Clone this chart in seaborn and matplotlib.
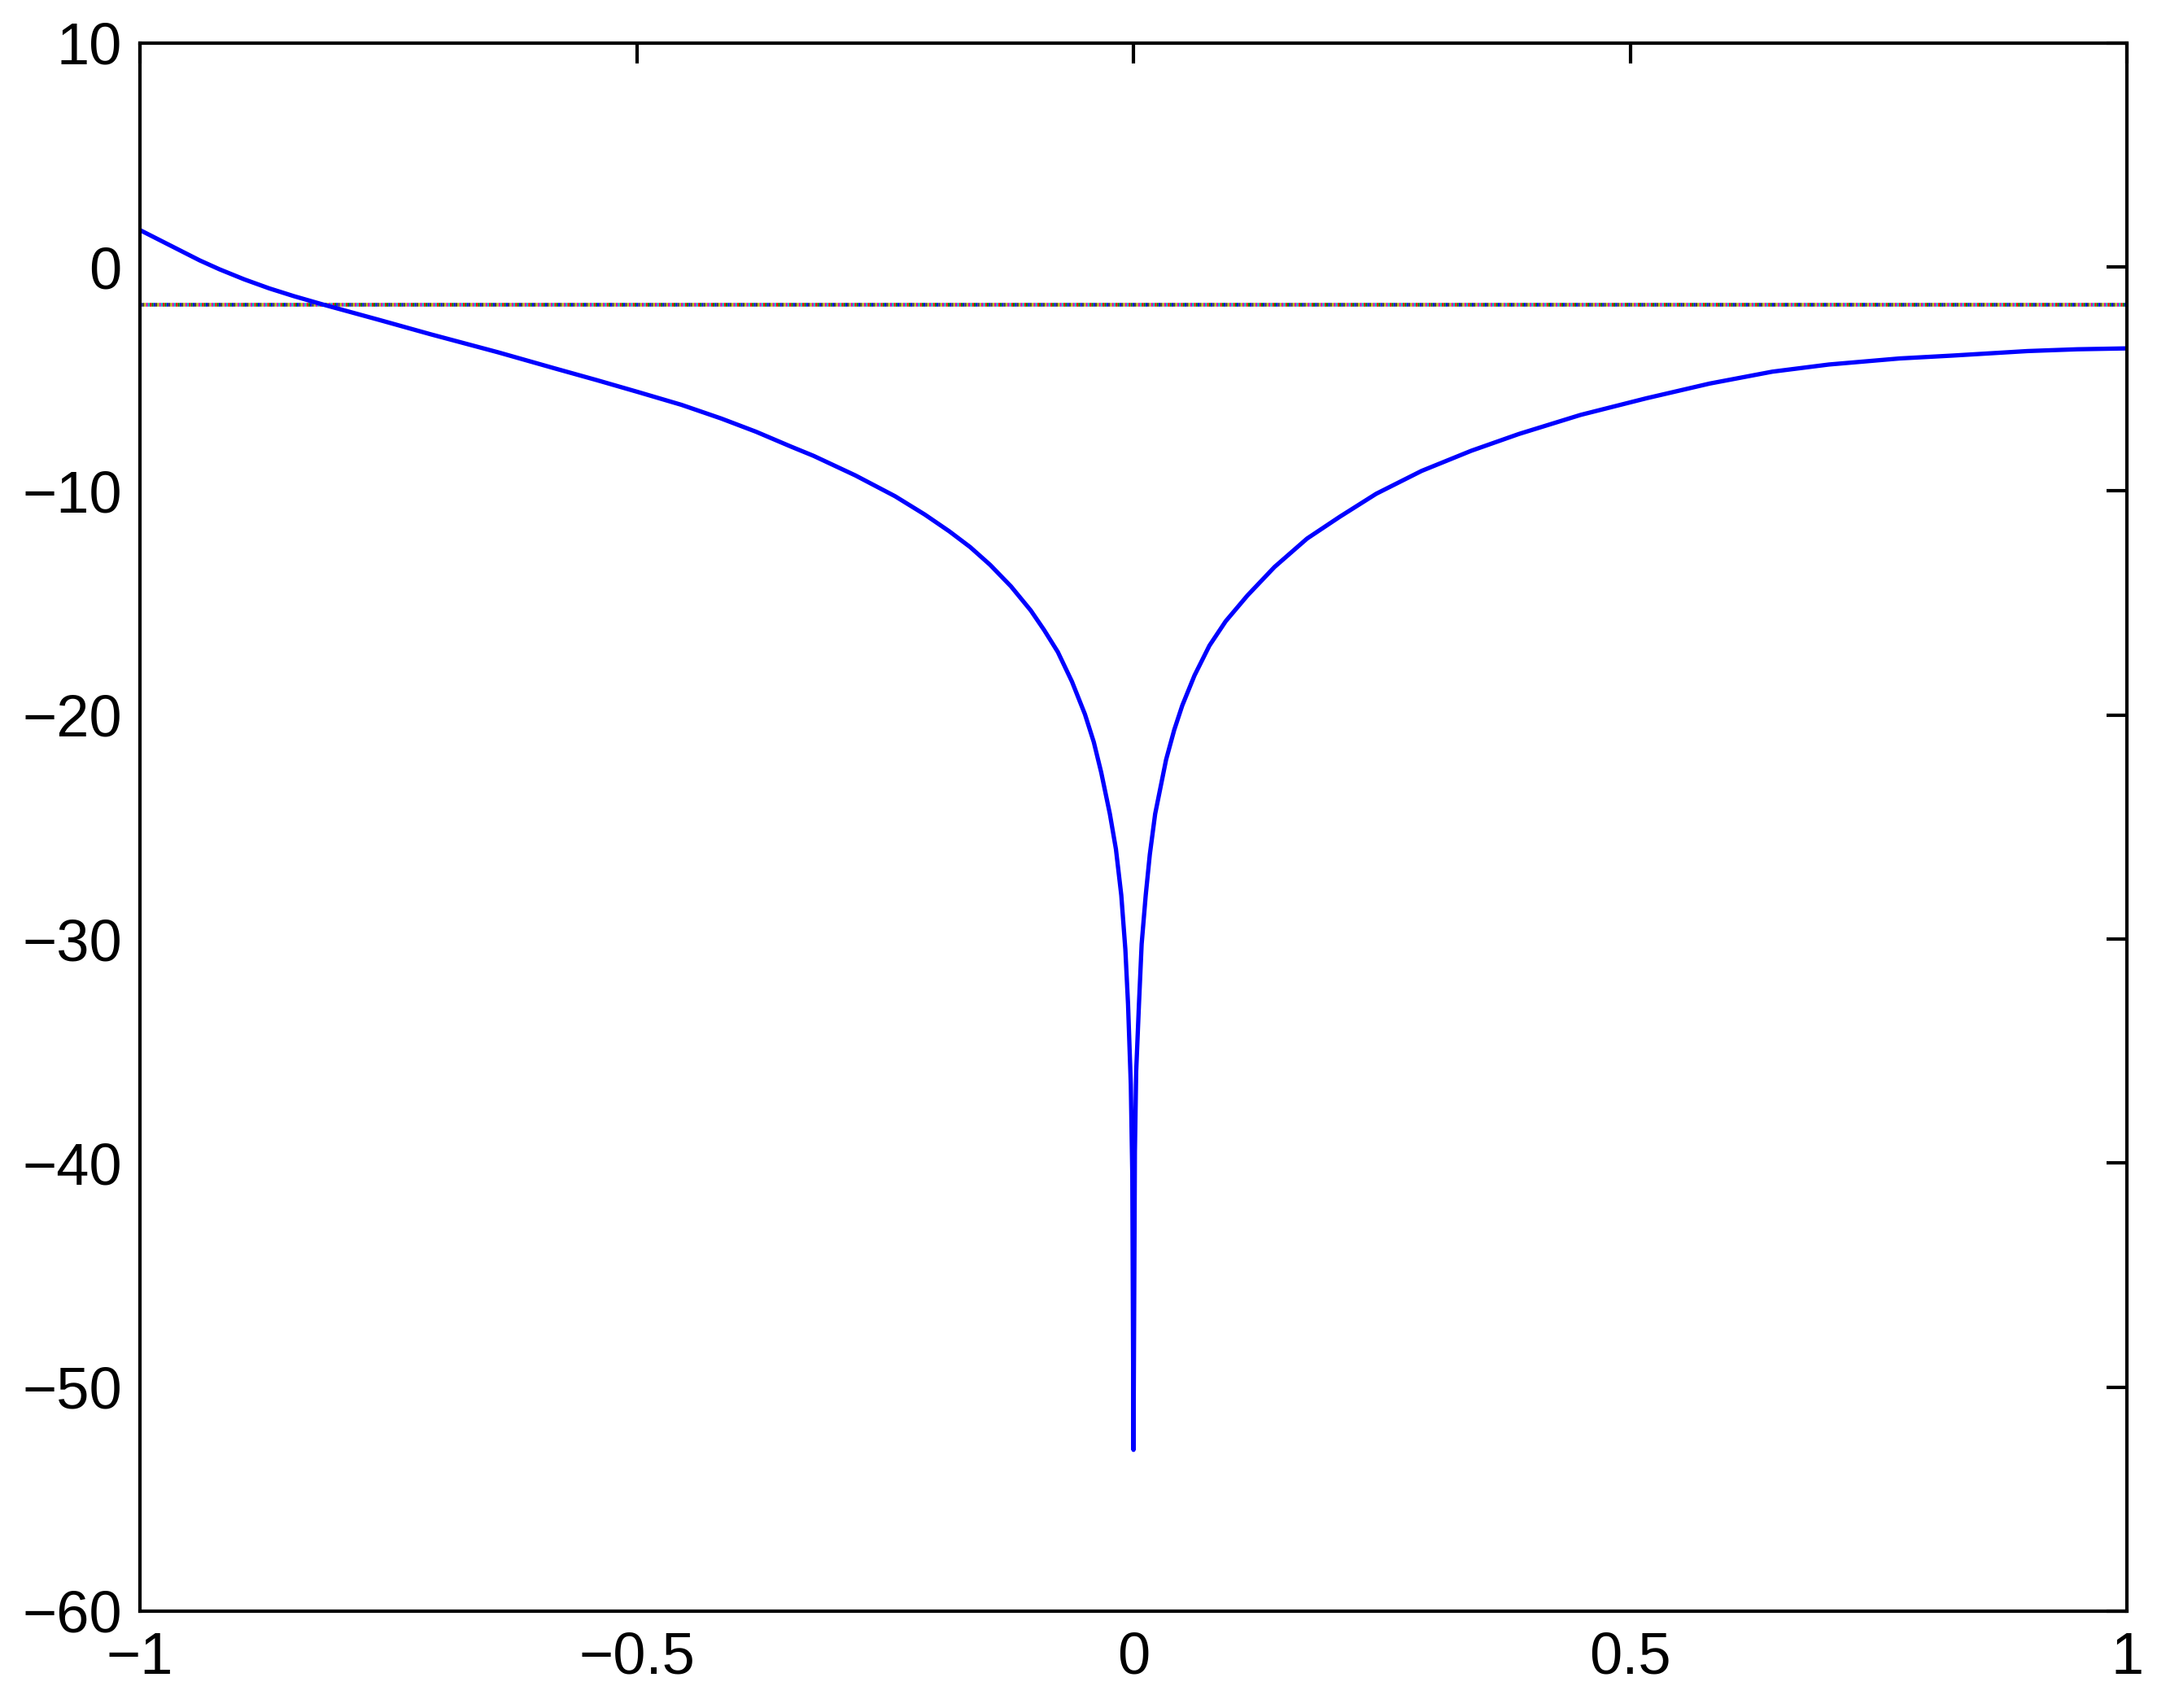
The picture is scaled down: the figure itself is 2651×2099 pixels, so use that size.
import matplotlib
matplotlib.use("Agg")
import matplotlib.pyplot as plt
import seaborn as sns

# curve values
x_vals = [-1.0, -0.98, -0.96, -0.94, -0.92, -0.895, -0.87, -0.845, -0.816,
          -0.76, -0.7075, -0.64, -0.582,
          -0.54, -0.4986, -0.455, -0.415, -0.38, -0.345, -0.3219, -0.28, -0.24,
          -0.21, -0.1853, -0.1644, -0.1444, -0.1234, -0.1034, -0.09, -0.0762,
          -0.062, -0.0489, -0.04, -0.0325, -0.0238, -0.0177, -0.0123, -0.0082,
          -0.0055, -0.0027, -0.0012, 0.0,
          0.0014, 0.0027, 0.0055, 0.0082, 0.0123, 0.0164, 0.0218, 0.0273,
          0.0328, 0.041, 0.0491, 0.0614, 0.0764, 0.0928, 0.1147, 0.1419,
          0.1747, 0.2075, 0.2443, 0.29, 0.34, 0.388, 0.45, 0.516, 0.58, 0.643,
          0.7, 0.771, 0.825, 0.9, 0.95, 1.0]
y_vals = [1.65, 1.2, 0.75, 0.3, -0.1, -0.55, -0.95, -1.3, -1.67,
          -2.35, -3.0, -3.8, -4.53,
          -5.05, -5.58, -6.15, -6.76, -7.35, -8.01, -8.43, -9.3, -10.23,
          -11.05, -11.8, -12.5, -13.29, -14.25, -15.33, -16.2, -17.18,
          -18.5, -19.96, -21.2, -22.56, -24.41, -25.98, -28.04, -30.46,
          -32.9, -36.5, -40.5, -52.8,
          -39.5, -35.9, -32.9, -30.22, -28.04, -26.23, -24.41, -23.2,
          -21.99, -20.66, -19.57, -18.23, -16.9, -15.81, -14.66, -13.39,
          -12.12, -11.15, -10.12, -9.1, -8.2, -7.45, -6.6, -5.86, -5.2, -4.67,
          -4.35, -4.08, -3.95, -3.75, -3.67, -3.63]

# overlapping flat lines at the same level
hline_level = -1.67
hline_colors = ["#0000ff", "#008000", "#ff0000", "#00bfbf", "#bf00bf", "#bfbf00", "#404040"]

x_ticks = [-1, -0.5, 0, 0.5, 1]
x_labels = ["\u22121", "\u22120.5", "0", "0.5", "1"]
y_ticks = [10, 0, -10, -20, -30, -40, -50, -60]
y_labels = ["10", "0", "\u221210", "\u221220", "\u221230", "\u221240", "\u221250", "\u221260"]

sns.set_style("white")
plt.rcParams["font.family"] = ["Liberation Sans", "DejaVu Sans"]

fig = plt.figure(figsize=(26.51, 20.99), dpi=100)
ax = fig.add_axes([0.0649, 0.0567, 0.9212, 0.9181])

n = len(hline_colors)
for i, c in enumerate(hline_colors):
    ax.plot([-1, 1], [hline_level, hline_level], color=c, lw=3.3,
            linestyle=(i * 0.5, (0.5, 0.5 * (n - 1))), dash_capstyle="butt")

sns.lineplot(x=x_vals, y=y_vals, sort=False, estimator=None, color="#0000ff",
             linewidth=3.8, ax=ax)

ax.set_xlim(-1, 1)
ax.set_ylim(-60, 10)
ax.set_xticks(x_ticks)
ax.set_xticklabels(x_labels)
ax.set_yticks(y_ticks)
ax.set_yticklabels(y_labels)

for s in ax.spines.values():
    s.set_visible(True)
    s.set_color("black")
    s.set_linewidth(3)
ax.tick_params(direction="in", length=18, width=3, top=True, right=True,
               labelsize=52, colors="black")
ax.tick_params(axis="x", pad=18)
ax.tick_params(axis="y", pad=16)

fig.savefig("out.png", dpi=100, facecolor="white")
